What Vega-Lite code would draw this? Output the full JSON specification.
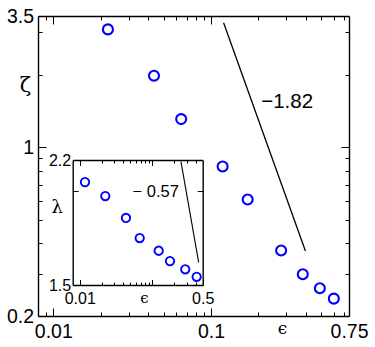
{
  "$schema": "https://vega.github.io/schema/vega-lite/v6.json",
  "autosize": {"type": "none"},
  "padding": {"left": 38, "top": 16, "right": 26, "bottom": 31},
  "width": 311,
  "height": 300,
  "config": {"view": {"stroke": null}, "axis": {"grid": false}, "font": "Liberation Sans"},
  "datasets": {
    "main": [
      {"e": 0.0222, "z": 3.08}, {"e": 0.0435, "z": 1.98}, {"e": 0.0647, "z": 1.309},
      {"e": 0.1185, "z": 0.833}, {"e": 0.1708, "z": 0.608}, {"e": 0.2784, "z": 0.3735},
      {"e": 0.382, "z": 0.298}, {"e": 0.49, "z": 0.2606}, {"e": 0.601, "z": 0.236}
    ],
    "mainLine": [{"e": 0.1202, "z": 3.28}, {"e": 0.397, "z": 0.372}],
    "mainLabel": [{"e": 0.304, "z": 1.544, "t": "−1.82"}],
    "inset": [
      {"e": 0.01183, "l": 2.056}, {"e": 0.02256, "l": 1.97}, {"e": 0.04357, "l": 1.842},
      {"e": 0.0674, "l": 1.732}, {"e": 0.1233, "l": 1.666}, {"e": 0.1766, "l": 1.614},
      {"e": 0.287, "l": 1.574}, {"e": 0.4127, "l": 1.538}
    ],
    "insetLine": [{"e": 0.2505, "l": 2.189}, {"e": 0.4397, "l": 1.608}],
    "insetLabel": [{"e": 0.1124, "l": 1.996, "t": "− 0.57"}]
  },
  "resolve": {
    "scale": {"x": "independent", "y": "independent"},
    "axis": {"x": "independent", "y": "independent"}
  },
  "layer": [
    {
      "data": {"name": "main"},
      "mark": {"type": "point", "shape": "circle", "filled": false, "color": "#0000ff", "strokeWidth": 2.1, "size": 100, "opacity": 1},
      "encoding": {
        "x": {
          "field": "e", "type": "quantitative",
          "scale": {"type": "log", "domain": [0.008, 0.75], "nice": false},
          "axis": {
            "orient": "bottom",
            "values": [0.009, 0.01, 0.02, 0.03, 0.04, 0.05, 0.06, 0.07, 0.08, 0.09, 0.1, 0.2, 0.3, 0.4, 0.5, 0.6, 0.7, 0.75],
            "labelExpr": "datum.value == 0.01 ? '0.01' : datum.value == 0.1 ? '0.1' : datum.value == 0.75 ? '0.75' : ''",
            "tickSize": {"condition": {"test": "datum.value == 0.01 || datum.value == 0.1 || datum.value == 0.75", "value": -8}, "value": -4},
            "labelPadding": 14, "labelFontSize": 19.5, "labelFont": "Liberation Sans", "labelColor": "black",
            "labelFlush": false, "labelOverlap": false, "labelBound": false,
            "tickColor": "black", "tickWidth": 1, "domainColor": "black", "domainWidth": 1.4,
            "title": "ϵ", "titleFont": "DejaVu Serif", "titleFontSize": 17, "titleFontWeight": "normal", "titleColor": "black",
            "titleX": 244, "titleY": 12, "titleAlign": "center", "titleBaseline": "middle", "titleAngle": 0
          }
        },
        "y": {
          "field": "z", "type": "quantitative",
          "scale": {"type": "log", "domain": [0.2, 3.5], "nice": false},
          "axis": {
            "orient": "left",
            "values": [0.2, 0.3, 0.4, 0.5, 0.6, 0.7, 0.8, 0.9, 1, 2, 3, 3.5],
            "labelExpr": "datum.value == 0.2 ? '0.2' : datum.value == 1 ? '1' : datum.value == 3.5 ? '3.5' : ''",
            "tickSize": {"condition": {"test": "datum.value == 0.2 || datum.value == 1 || datum.value == 3.5", "value": -8}, "value": -4},
            "labelPadding": 12.5, "labelFontSize": 19.5, "labelFont": "Liberation Sans", "labelColor": "black",
            "labelFlush": false, "labelOverlap": false, "labelBound": false, "labelBaseline": "middle",
            "tickColor": "black", "tickWidth": 1, "domainColor": "black", "domainWidth": 1.4,
            "title": "ζ", "titleFont": "DejaVu Serif", "titleFontSize": 21, "titleFontWeight": "normal", "titleColor": "black",
            "titleX": -13, "titleY": 69, "titleAlign": "center", "titleBaseline": "middle", "titleAngle": 0
          }
        }
      }
    },
    {
      "data": {"name": "mainLine"},
      "mark": {"type": "line", "color": "black", "strokeWidth": 1.3},
      "encoding": {
        "x": {
          "field": "e", "type": "quantitative",
          "scale": {"type": "log", "domain": [0.008, 0.75], "nice": false},
          "axis": {
            "orient": "top", "labels": false, "title": null,
            "values": [0.009, 0.01, 0.02, 0.03, 0.04, 0.05, 0.06, 0.07, 0.08, 0.09, 0.1, 0.2, 0.3, 0.4, 0.5, 0.6, 0.7],
            "tickSize": {"condition": {"test": "datum.value == 0.01 || datum.value == 0.1", "value": -8}, "value": -4},
            "tickColor": "black", "tickWidth": 1, "domainColor": "black", "domainWidth": 1.4
          }
        },
        "y": {
          "field": "z", "type": "quantitative",
          "scale": {"type": "log", "domain": [0.2, 3.5], "nice": false},
          "axis": {
            "orient": "right", "labels": false, "title": null,
            "values": [0.3, 0.4, 0.5, 0.6, 0.7, 0.8, 0.9, 1, 2, 3],
            "tickSize": {"condition": {"test": "datum.value == 1", "value": -8}, "value": -4},
            "tickColor": "black", "tickWidth": 1, "domainColor": "black", "domainWidth": 1.4
          }
        }
      }
    },
    {
      "data": {"name": "mainLabel"},
      "mark": {"type": "text", "font": "Liberation Sans", "fontSize": 20.5, "color": "black", "align": "center", "baseline": "middle"},
      "encoding": {
        "x": {"field": "e", "type": "quantitative", "scale": {"type": "log", "domain": [0.008, 0.75], "nice": false}, "axis": null},
        "y": {"field": "z", "type": "quantitative", "scale": {"type": "log", "domain": [0.2, 3.5], "nice": false}, "axis": null},
        "text": {"field": "t", "type": "nominal"}
      }
    },
    {
      "data": {"name": "inset"},
      "mark": {"type": "point", "shape": "circle", "filled": false, "color": "#0000ff", "strokeWidth": 1.9, "size": 70, "opacity": 1},
      "encoding": {
        "x": {
          "field": "e", "type": "quantitative",
          "scale": {"type": "log", "domain": [0.008, 0.5], "nice": false, "range": [34.7, 164.7]},
          "axis": {
            "orient": "bottom", "offset": -31,
            "values": [0.01, 0.02, 0.03, 0.04, 0.05, 0.06, 0.07, 0.08, 0.09, 0.1, 0.2, 0.3, 0.4, 0.5],
            "labelExpr": "datum.value == 0.01 ? '0.01' : datum.value == 0.5 ? '0.5' : ''",
            "tickSize": {"condition": {"test": "datum.value == 0.01 || datum.value == 0.1 || datum.value == 0.5", "value": -5.5}, "value": -3},
            "labelPadding": 10.5, "labelFontSize": 16, "labelFont": "Liberation Sans", "labelColor": "black",
            "labelFlush": false, "labelOverlap": false, "labelBound": false,
            "tickColor": "black", "tickWidth": 1, "domainColor": "black", "domainWidth": 1.4,
            "title": "ϵ", "titleFont": "DejaVu Serif", "titleFontSize": 15, "titleFontWeight": "normal", "titleColor": "black",
            "titleX": 106, "titleY": 12, "titleAlign": "center", "titleBaseline": "middle", "titleAngle": 0
          }
        },
        "y": {
          "field": "l", "type": "quantitative",
          "scale": {"type": "log", "domain": [1.5, 2.2], "nice": false, "zero": false, "range": [269, 144]},
          "axis": {
            "orient": "left", "offset": -34.7,
            "values": [1.5, 2, 2.2],
            "labelExpr": "datum.value == 1.5 ? '1.5' : datum.value == 2.2 ? '2.2' : ''",
            "tickSize": -5.5,
            "labelPadding": 7.5, "labelFontSize": 16, "labelFont": "Liberation Sans", "labelColor": "black",
            "labelFlush": false, "labelOverlap": false, "labelBound": false, "labelBaseline": "middle",
            "tickColor": "black", "tickWidth": 1, "domainColor": "black", "domainWidth": 1.4,
            "title": "λ", "titleFont": "DejaVu Serif", "titleFontSize": 18, "titleFontWeight": "normal", "titleColor": "black",
            "titleX": -16, "titleY": 191, "titleAlign": "center", "titleBaseline": "middle", "titleAngle": 0
          }
        }
      }
    },
    {
      "data": {"name": "insetLine"},
      "mark": {"type": "line", "color": "black", "strokeWidth": 1.1},
      "encoding": {
        "x": {
          "field": "e", "type": "quantitative",
          "scale": {"type": "log", "domain": [0.008, 0.5], "nice": false, "range": [34.7, 164.7]},
          "axis": {
            "orient": "top", "offset": -144, "labels": false, "title": null,
            "values": [0.01, 0.02, 0.03, 0.04, 0.05, 0.06, 0.07, 0.08, 0.09, 0.1, 0.2, 0.3, 0.4],
            "tickSize": {"condition": {"test": "datum.value == 0.01 || datum.value == 0.1", "value": -5.5}, "value": -3},
            "tickColor": "black", "tickWidth": 1, "domainColor": "black", "domainWidth": 1.4
          }
        },
        "y": {
          "field": "l", "type": "quantitative",
          "scale": {"type": "log", "domain": [1.5, 2.2], "nice": false, "zero": false, "range": [269, 144]},
          "axis": {
            "orient": "right", "offset": -146.3, "labels": false, "title": null,
            "values": [2],
            "tickSize": -5.5,
            "tickColor": "black", "tickWidth": 1, "domainColor": "black", "domainWidth": 1.4
          }
        }
      }
    },
    {
      "data": {"name": "insetLabel"},
      "mark": {"type": "text", "font": "Liberation Sans", "fontSize": 16.5, "color": "black", "align": "center", "baseline": "middle"},
      "encoding": {
        "x": {"field": "e", "type": "quantitative", "scale": {"type": "log", "domain": [0.008, 0.5], "nice": false, "range": [34.7, 164.7]}, "axis": null},
        "y": {"field": "l", "type": "quantitative", "scale": {"type": "log", "domain": [1.5, 2.2], "nice": false, "zero": false, "range": [269, 144]}, "axis": null},
        "text": {"field": "t", "type": "nominal"}
      }
    }
  ]
}
